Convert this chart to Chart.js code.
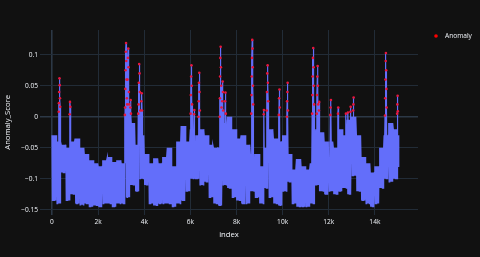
<!DOCTYPE html>
<html><head><meta charset="utf-8">
<script src="https://cdn.jsdelivr.net/npm/chart.js@4.4.1/dist/chart.umd.min.js"></script>
<style>html,body{margin:0;padding:0;background:#111111;overflow:hidden}#wrap{width:480px;height:257px;position:relative}</style>
</head><body><div id="wrap"><canvas id="c" width="480" height="257"></canvas></div>
<script>
// ---- data ----
// envelope of the dense Anomaly_Score line, sampled along index
const sampleIndex = [0,200,400,600,800,1000,1200,1400,1600,1800,2000,2200,2400,2600,2800,3000,3200,3400,3600,3800,4000,4200,4400,4600,4800,5000,5200,5400,5600,5800,6000,6200,6400,6600,6800,7000,7200,7400,7600,7800,8000,8200,8400,8600,8800,9000,9200,9400,9600,9800,10000,10200,10400,10600,10800,11000,11200,11400,11600,11800,12000,12200,12400,12600,12800,13000,13200,13400,13600,13800,14000,14200,14400,14600,14800,15000];
const upperScore = [-0.03,-0.04,-0.045,-0.05,-0.04,-0.035,-0.05,-0.06,-0.07,-0.075,-0.08,-0.07,-0.065,-0.073,-0.07,-0.075,-0.02,-0.01,-0.045,-0.03,-0.06,-0.075,-0.067,-0.075,-0.065,-0.05,-0.08,-0.04,-0.015,-0.04,-0.02,-0.03,-0.02,-0.03,-0.045,-0.05,-0.05,-0.01,0.0,-0.02,-0.035,-0.03,-0.045,-0.06,-0.06,-0.08,-0.05,-0.02,-0.035,-0.04,-0.03,-0.06,-0.085,-0.068,-0.08,-0.085,-0.075,-0.02,-0.025,-0.04,-0.04,-0.05,-0.02,-0.03,-0.005,0.0,-0.03,-0.065,-0.075,-0.09,-0.08,-0.05,-0.03,-0.01,-0.02,-0.03];
const lowerScore = [-0.135,-0.14,-0.09,-0.135,-0.125,-0.14,-0.142,-0.14,-0.145,-0.143,-0.145,-0.14,-0.14,-0.145,-0.14,-0.14,-0.13,-0.11,-0.12,-0.1,-0.11,-0.14,-0.143,-0.14,-0.14,-0.14,-0.145,-0.14,-0.135,-0.12,-0.1,-0.1,-0.11,-0.105,-0.13,-0.14,-0.143,-0.11,-0.115,-0.13,-0.135,-0.14,-0.14,-0.12,-0.13,-0.14,-0.115,-0.13,-0.14,-0.143,-0.12,-0.105,-0.14,-0.145,-0.145,-0.145,-0.14,-0.11,-0.12,-0.125,-0.12,-0.125,-0.12,-0.115,-0.125,-0.095,-0.12,-0.135,-0.14,-0.145,-0.14,-0.115,-0.1,-0.105,-0.1,-0.08];
// anomaly points (red markers)
const anomalyIndex = [290,300,310,325,335,345,355, 765,780,795,
 3160,3170,3180,3190,3200,3210,3220,3230,3245,3260,3275,3290,3305,3320,3335,3350,3400,3412,3425,
 3740,3755,3765,3780,3795,3810,3830,3875,3890,3905,
 6010,6020,6035,6048,6060,6075,6160,6170,
 6350,6360,6372,6385,6398,6410,
 7270,7280,7290,7300,7313,7325,7338,7350,7385,7400,7412,7425,7505,7521,7535,
 8640,8650,8660,8672,8683,8694,8705,8715,8725,
 9180,9190,9310,9320,9335,9350,9362,9375,
 9835,9848,9862,9875,
 10185,10195,10207,10218,10230,
 11280,11290,11300,11313,11327,11340,11352,11365,11480,11490,11505,11518,11530,11545,11575,11587,
 12070,12082,12095, 12400,12411,
 12745,12832,12940,12949,13060,13070,13079,
 14440,14450,14460,14470,14479,14490,14500,14510,
 14965,14975,14986,14995];
const anomalyScore = [0.008,0.022,0.040,0.062,0.051,0.030,0.016, 0.004,0.024,0.016,
 0.003,0.015,0.045,0.075,0.105,0.119,0.09,0.06,0.03,0.02,0.06,0.095,0.110,0.08,0.04,0.02,0.015,0.027,0.005,
 0.005,0.02,0.055,0.085,0.07,0.04,0.01,0.025,0.038,0.01,
 0.005,0.035,0.065,0.083,0.05,0.02,0.004,0.011,
 0.0,0.025,0.055,0.071,0.04,0.01,
 0.0,0.03,0.065,0.095,0.113,0.08,0.05,0.015,0.025,0.057,0.04,0.01,0.025,0.039,0.005,
 0.005,0.035,0.065,0.095,0.124,0.11,0.08,0.05,0.02,
 0.004,0.011,0.01,0.04,0.07,0.083,0.055,0.025,
 0.003,0.03,0.044,0.015,
 0.0,0.025,0.04,0.055,0.01,
 0.005,0.035,0.065,0.095,0.111,0.08,0.05,0.02,0.005,0.035,0.065,0.082,0.05,0.02,0.01,0.024,
 0.003,0.015,0.027, 0.005,0.015,
 0.005,0.007,0.008,0.016,0.01,0.02,0.031,
 0.002,0.03,0.06,0.09,0.103,0.075,0.045,0.015,
 0.005,0.02,0.034,0.009];
const xTickValues = [0,2000,4000,6000,8000,10000,12000,14000];
const xTickLabels = ['0','2k','4k','6k','8k','10k','12k','14k'];
const yTickValues = [-0.15,-0.1,-0.05,0,0.05,0.1];
const yTickLabels = ['\u22120.15','\u22120.1','\u22120.05','0','0.05','0.1'];

// ---- build the line (dense zig-zag between envelope values, plus anomaly points) ----
const zig = [0,18,36,54,72,90,108,126,144,162,180];
const linePts = [];
sampleIndex.forEach((ix,i)=>{
  const offs = (i === sampleIndex.length-1) ? [0,18,36] : zig;
  offs.forEach((o,k)=>linePts.push({x:ix+o, y:(k%2===0)?upperScore[i]:lowerScore[i]}));
});
anomalyIndex.forEach((ix,i)=>linePts.push({x:ix, y:anomalyScore[i]}));
linePts.sort((a,b)=>a.x-b.x);
const anomalyPts = anomalyIndex.map((x,i)=>({x:x, y:anomalyScore[i]}));

const TXT = '#f2f5fa';
const FONT = '"Open Sans", "DejaVu Sans", sans-serif';
const gridColor = c => (c.tick && c.tick.value === 0) ? '#2c3846' : '#222c37';
const gridWidth = c => (c.tick && c.tick.value === 0) ? 1.6 : 1;

const bgPlugin = {id:'bg', beforeDraw(chart){const c=chart.ctx; c.save(); c.fillStyle='#111111'; c.fillRect(0,0,chart.width,chart.height); c.restore();}};
const legendPlugin = {id:'legendDraw', afterDraw(chart){
  const c = chart.ctx, a = chart.chartArea;
  const x = a.right + 18, y = a.top + 6;
  c.save();
  c.fillStyle = '#ff0000'; c.beginPath(); c.arc(x, y, 1.8, 0, Math.PI*2); c.fill();
  c.fillStyle = TXT; c.font = '6.6px ' + FONT; c.textBaseline = 'middle'; c.textAlign = 'left';
  c.fillText(chart.data.datasets[0].label, x + 9, y + 0.5);
  c.restore();
}};

function draw(){
new Chart(document.getElementById('c').getContext('2d'), {
  type: 'line',
  data: { datasets: [
    { label:'Anomaly', type:'scatter', data: anomalyPts, pointRadius:1.3, pointBackgroundColor:'#e8163c', pointBorderWidth:0, showLine:false, order:0 },
    { label:'Anomaly_Score', data: linePts, borderColor:'#636efa', borderWidth:1.2, pointRadius:0, fill:false, tension:0, order:1 }
  ]},
  options: {
    responsive:false, animation:false, events:[],
    layout:{padding:{top:30, right:62, left:0, bottom:0}},
    plugins:{legend:{display:false}, tooltip:{enabled:false}},
    scales:{
      x:{ type:'linear', min:-520, max:15870,
        afterFit(s){ s.height = 42.3; },
        afterBuildTicks(s){ s.ticks = xTickValues.map(v=>({value:v})); },
        ticks:{ color:TXT, font:{family:FONT, size:6.6}, padding:3, maxRotation:0, autoSkip:false, includeBounds:false,
          callback:(v)=>{const i=xTickValues.indexOf(v); return i>=0?xTickLabels[i]:'';} },
        grid:{ color:gridColor, lineWidth:gridWidth, drawTicks:false },
        border:{ display:false },
        title:{ display:true, text:'index', color:TXT, font:{family:FONT, size:7.7}, padding:{top:0,bottom:17.4} }
      },
      y:{ type:'linear', min:-0.158, max:0.14,
        afterFit(s){ s.width = 40; },
        afterBuildTicks(s){ s.ticks = yTickValues.map(v=>({value:v})); },
        ticks:{ color:TXT, font:{family:FONT, size:6.6}, padding:2, autoSkip:false, includeBounds:false,
          callback:(v)=>{const i=yTickValues.findIndex(t=>Math.abs(t-v)<1e-9); return i>=0?yTickLabels[i]:'';} },
        grid:{ color:gridColor, lineWidth:gridWidth, drawTicks:false },
        border:{ display:false },
        title:{ display:true, text:'Anomaly_Score', color:TXT, font:{family:FONT, size:7.7}, padding:{top:3.4,bottom:0} }
      }
    }
  },
  plugins:[bgPlugin, legendPlugin]
});
}
if (document.fonts && document.fonts.load) { document.fonts.load('7px "Open Sans"').then(draw, draw); } else { draw(); }
</script></body></html>
